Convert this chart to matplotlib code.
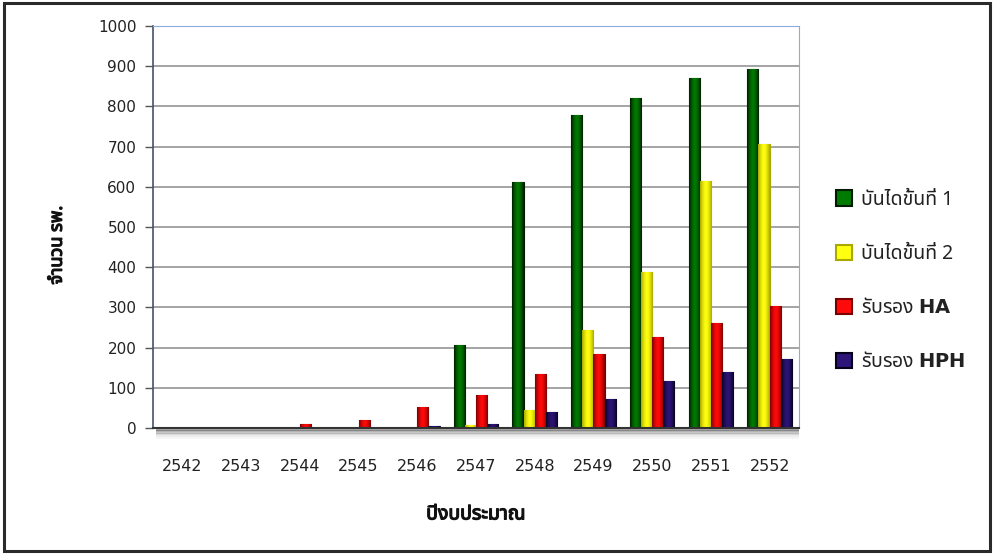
import matplotlib
matplotlib.use("Agg")
import matplotlib.pyplot as plt
import numpy as np
from matplotlib.patches import Patch, Rectangle
from matplotlib.colors import LinearSegmentedColormap
import matplotlib.patheffects as pe

plt.rcParams['font.family'] = ['Noto Sans Thai', 'DejaVu Sans']
plt.rcParams['mathtext.fontset'] = 'dejavusans'

years = ['2542', '2543', '2544', '2545', '2546', '2547', '2548', '2549', '2550', '2551', '2552']
step1 = [0, 0, 0, 0, 0, 207, 612, 778, 820, 871, 894]
step2 = [0, 0, 0, 0, 0, 8, 45, 244, 388, 614, 706]
accred_ha = [0, 1, 11, 20, 51, 82, 134, 184, 227, 260, 303]
accred_hph = [0, 0, 0, 0, 4, 10, 40, 71, 117, 140, 172]

# (values, label, centre colour, edge/shade colour)
series = [
    (step1, 'บันไดขั้นที่ 1', '#007a00', '#001c00'),
    (step2, 'บันไดขั้นที่ 2', '#ffff10', '#a8a800'),
    (accred_ha, r'รับรอง $\mathbf{HA}$', '#ff0a0a', '#7a0000'),
    (accred_hph, r'รับรอง $\mathbf{HPH}$', '#2c1478', '#07021c'),
]

fig = plt.figure(figsize=(9.94, 5.54), dpi=100)
fig.patch.set_facecolor('white')
ax = fig.add_axes([153 / 994, 1 - 428 / 554, (799 - 153) / 994, (428 - 26) / 554])

x = np.arange(len(years))
w = 0.19
offsets = [-1.5 * w, -0.5 * w, 0.5 * w, 1.5 * w]
grad = np.abs(np.linspace(-1, 1, 64)) ** 1.6
grad = grad.reshape(1, -1)
handles = []
for (vals, lab, fc, ec), off in zip(series, offsets):
    bars = ax.bar(x + off, vals, width=w, color=fc, edgecolor=ec, linewidth=0.8, zorder=2)
    cmap = LinearSegmentedColormap.from_list('g', [fc, ec])
    for b in bars:
        if b.get_height() <= 0:
            b.set_visible(False)
            continue
        bx, by = b.get_x(), b.get_y()
        im = ax.imshow(grad, cmap=cmap, vmin=0, vmax=1, aspect='auto',
                       extent=[bx, bx + b.get_width(), by, by + b.get_height()],
                       zorder=2.1, interpolation='bilinear')
        im.set_clip_path(b)
    handles.append(Patch(facecolor=fc, edgecolor=ec, linewidth=1.5, label=lab))

ax.set_xlim(-0.5, len(years) - 0.5)
ax.set_ylim(0, 1000)
ax.set_yticks(np.arange(0, 1001, 100))
ax.set_xticks(x)
ax.set_xticklabels(years, family='DejaVu Sans', fontsize=11.5, color='#222222')
for t in ax.get_yticklabels():
    t.set_family('DejaVu Sans')
    t.set_fontsize(11)
    t.set_color('#222222')
ax.tick_params(axis='x', length=0, pad=22)
ax.tick_params(axis='y', length=6, width=1, color='#555555', pad=6)
ax.yaxis.grid(True, color='#8c8c8c', linewidth=1.1)
ax.set_axisbelow(True)
ax.spines['top'].set_color('#8faadc')
ax.spines['right'].set_color('#8faadc')
ax.spines['left'].set_color('#44546a')
ax.spines['bottom'].set_color('#333333')
ax.spines['bottom'].set_linewidth(1.5)
ax.spines['left'].set_linewidth(1.2)

# floor shadow
for i, a in enumerate([0.45, 0.35, 0.25, 0.16, 0.09, 0.04]):
    ax.plot([0.005, 1.0], [-0.004 - i * 0.004] * 2, transform=ax.transAxes, color='#444444',
            alpha=a, linewidth=1.6, clip_on=False, solid_capstyle='butt')

bold = [pe.withStroke(linewidth=0.9, foreground='#111111')]
ax.set_ylabel('จำนวน รพ.', fontsize=13, color='#111111', path_effects=bold)
ax.yaxis.set_label_coords(-0.135, 0.455)
ax.set_xlabel('ปีงบประมาณ', fontsize=14, color='#111111', path_effects=bold)
ax.xaxis.set_label_coords(0.5, -0.19)

leg = ax.legend(handles=handles, loc='center left', bbox_to_anchor=(818 / 994, 1 - 281 / 554),
                bbox_transform=fig.transFigure, frameon=False, fontsize=14,
                handlelength=0.85, handleheight=0.85, handletextpad=0.45, labelspacing=1.75)
for t in leg.get_texts():
    t.set_color('#222222')

fig.add_artist(Rectangle((0.004, 0.005), 0.992, 0.99, transform=fig.transFigure,
                         fill=False, edgecolor='#2a2a2a', linewidth=2.2))

fig.savefig('out.png', dpi=100, facecolor='white')
